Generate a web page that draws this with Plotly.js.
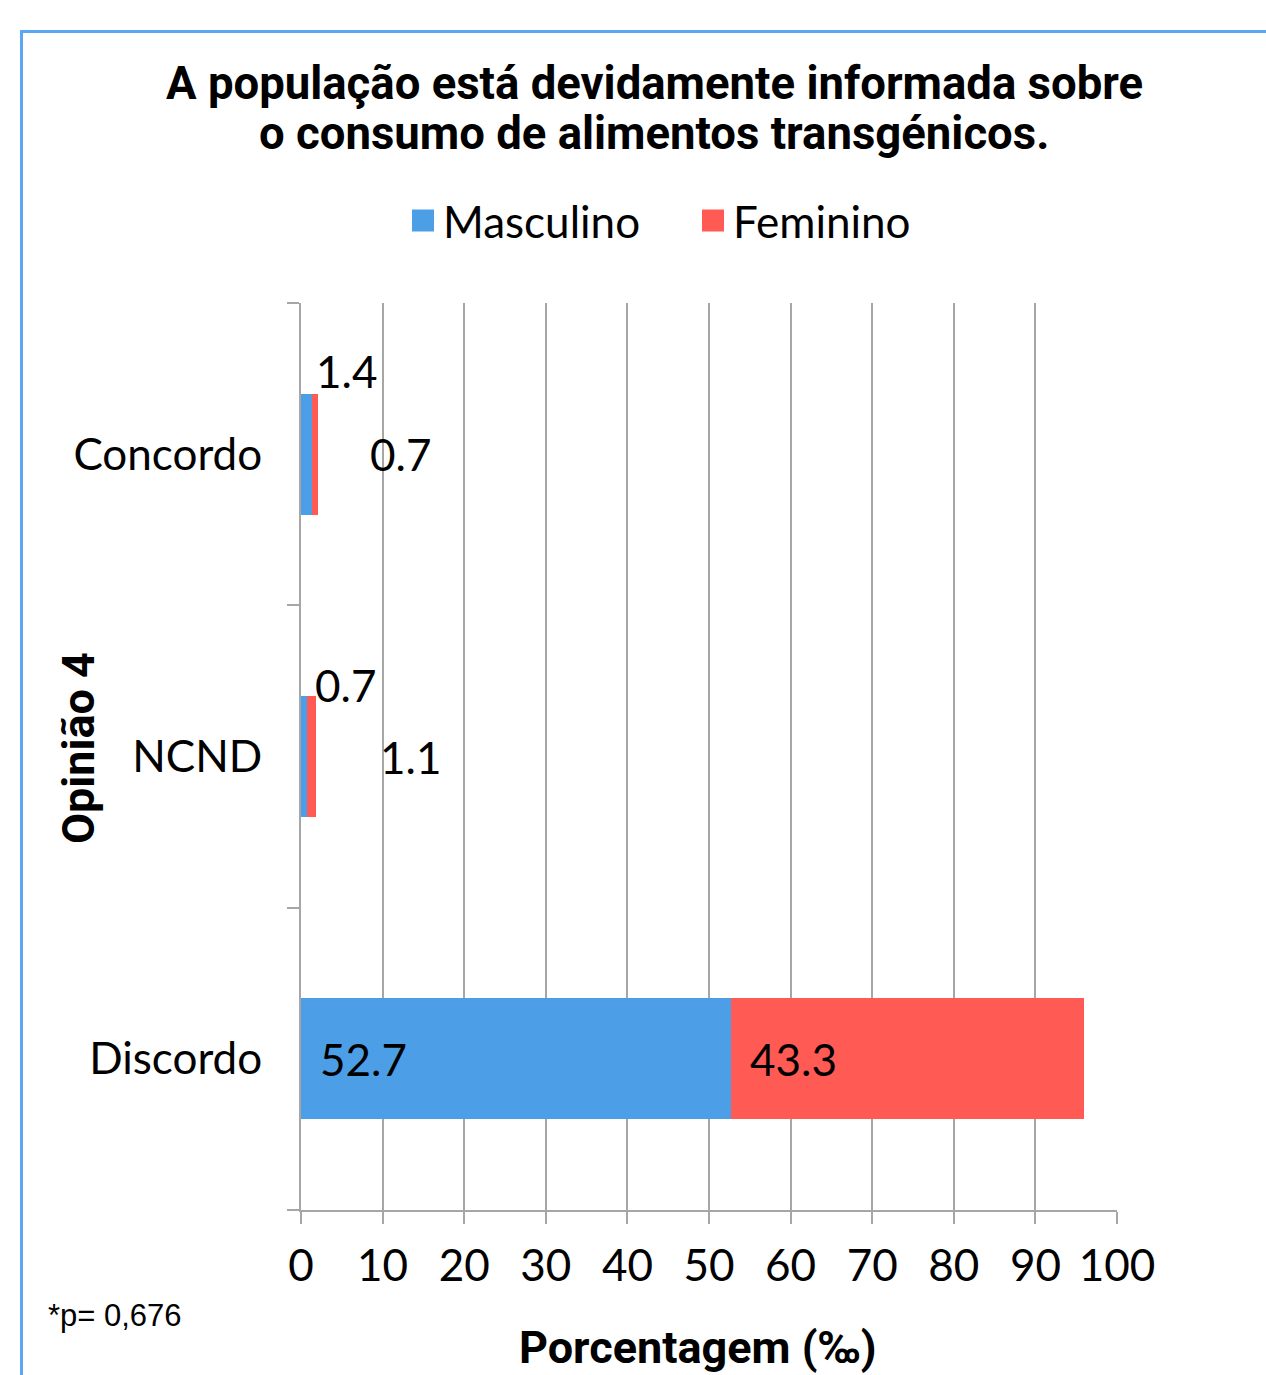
<!DOCTYPE html>
<html>
<head>
<meta charset="utf-8">
<script src="https://cdn.plot.ly/plotly-3.0.1.min.js"></script>
<style>
html,body{margin:0;padding:0;overflow:hidden;background:#fff;}
#chart{width:1266px;height:1375px;}
#frame{position:absolute;left:20px;top:30px;width:1400px;height:1500px;border-top:3px solid #5aa8f4;border-left:3px solid #5aa8f4;pointer-events:none;}
</style>
</head>
<body>
<div id="chart"></div>
<div id="frame"></div>
<script>
var categories = ['Discordo', 'NCND', 'Concordo'];
var masculino = [52.7, 0.7, 1.4];
var feminino = [43.3, 1.1, 0.7];
var seriesNames = ['Masculino', 'Feminino'];
var xTicks = [0, 10, 20, 30, 40, 50, 60, 70, 80, 90, 100];
var titleLines = ['A população está devidamente informada sobre', 'o consumo de alimentos transgénicos.'];
var xTitle = 'Porcentagem (‰)';
var yTitle = 'Opinião 4';
var note = '*p= 0,676';

var FONT = 'Lato, "Open Sans", sans-serif';
var BOLD = 'Roboto, "Liberation Sans", sans-serif';

var W = 1266, H = 1375, ML = 301, MR = 149, MT = 303, MB = 165;
var PW = W - ML - MR, PH = H - MT - MB;
function px(x){ return (x - ML) / PW; }
function py(y){ return (H - MB - y) / PH; }

var traces = [
  {type:'bar', orientation:'h', name:seriesNames[0], y:categories, x:masculino,
   marker:{color:'#4c9fe6'}, hoverinfo:'x'},
  {type:'bar', orientation:'h', name:seriesNames[1], y:categories, x:feminino,
   marker:{color:'#ff5a53'}, hoverinfo:'x'}
];

// label placement per category (pixel offsets only)
var labelStyle = {
  'Concordo': {m:{shiftx:2, shifty:83, at:'end'}, f:{shiftx:50, shifty:0, at:'end'}},
  'NCND':     {m:{shiftx:6, shifty:72, at:'end'}, f:{shiftx:62, shifty:0, at:'end'}},
  'Discordo': {m:{shiftx:17, shifty:0, at:'start'}, f:{shiftx:17, shifty:0, at:'start'}}
};
var annotations = [];
categories.forEach(function(c, i){
  var st = labelStyle[c];
  var mStart = 0, mEnd = masculino[i];
  var fStart = masculino[i], fEnd = masculino[i] + feminino[i];
  annotations.push({x: st.m.at==='end'? mEnd : mStart, y:c, xref:'x', yref:'y',
    text: masculino[i].toFixed(1), showarrow:false, xanchor:'left', yanchor:'middle',
    xshift: st.m.shiftx, yshift: st.m.shifty, font:{family:FONT, size:44, color:'#000'}});
  annotations.push({x: st.f.at==='end'? fEnd : fStart, y:c, xref:'x', yref:'y',
    text: feminino[i].toFixed(1), showarrow:false, xanchor:'left', yanchor:'middle',
    xshift: st.f.shiftx, yshift: st.f.shifty, font:{family:FONT, size:44, color:'#000'}});
});
// title lines
annotations.push({text:'<b>'+titleLines[0]+'</b>', xref:'paper', yref:'paper', x:px(654), y:py(84),
  xanchor:'center', yanchor:'middle', showarrow:false, font:{family:BOLD, size:45.5, color:'#000'}});
annotations.push({text:'<b>'+titleLines[1]+'</b>', xref:'paper', yref:'paper', x:px(654), y:py(134),
  xanchor:'center', yanchor:'middle', showarrow:false, font:{family:BOLD, size:45.5, color:'#000'}});
// axis titles
annotations.push({text:'<b>'+xTitle+'</b>', xref:'paper', yref:'paper', x:px(697), y:py(1347),
  xanchor:'center', yanchor:'middle', showarrow:false, font:{family:BOLD, size:45, color:'#000'}});
annotations.push({text:'<b>'+yTitle+'</b>', xref:'paper', yref:'paper', x:px(78), y:py(748), textangle:-90,
  xanchor:'center', yanchor:'middle', showarrow:false, font:{family:BOLD, size:45, color:'#000'}});
annotations.push({text:note, xref:'paper', yref:'paper', x:px(46), y:py(1315),
  xanchor:'left', yanchor:'middle', showarrow:false, font:{family:'"Liberation Sans", Arial, sans-serif', size:31, color:'#000'}});

var layout = {
  width:W, height:H,
  margin:{l:ML, r:MR, t:MT, b:MB},
  paper_bgcolor:'#fff', plot_bgcolor:'#fff',
  barmode:'stack', bargap:0.6,
  showlegend:true,
  legend:{orientation:'h', x:px(403), xanchor:'left', y:py(221), yanchor:'middle',
    font:{family:FONT, size:44, color:'#000'}, traceorder:'normal', itemclick:false,
    entrywidth:245, entrywidthmode:'pixels'},
  xaxis:{range:[0,100], tickvals:xTicks, ticktext:xTicks.map(String), showgrid:true, gridcolor:'#a6a6a6', gridwidth:2,
    zeroline:false, showline:true, linecolor:'#a6a6a6', linewidth:2, ticks:'outside', ticklen:12, tickwidth:2, tickcolor:'#a6a6a6',
    tickfont:{family:FONT, size:44, color:'#000'}, ticklabelstandoff:4, fixedrange:true},
  yaxis:{type:'category', categoryorder:'array', categoryarray:categories, range:[-0.5,2.5],
    tickson:'boundaries', ticks:'outside', ticklen:12, tickwidth:2, tickcolor:'#a6a6a6',
    showline:true, linecolor:'#a6a6a6', linewidth:2, showgrid:false, zeroline:false,
    tickfont:{family:FONT, size:44, color:'#000'}, ticklabelstandoff:28, fixedrange:true},
  annotations:annotations
};

Plotly.newPlot('chart', traces, layout, {displayModeBar:false, staticPlot:true}).then(function(){
  document.querySelectorAll('.legendpoints path').forEach(function(p){
    p.setAttribute('d','M11,11H-11V-11H11Z');
  });
});
</script>
</body>
</html>
